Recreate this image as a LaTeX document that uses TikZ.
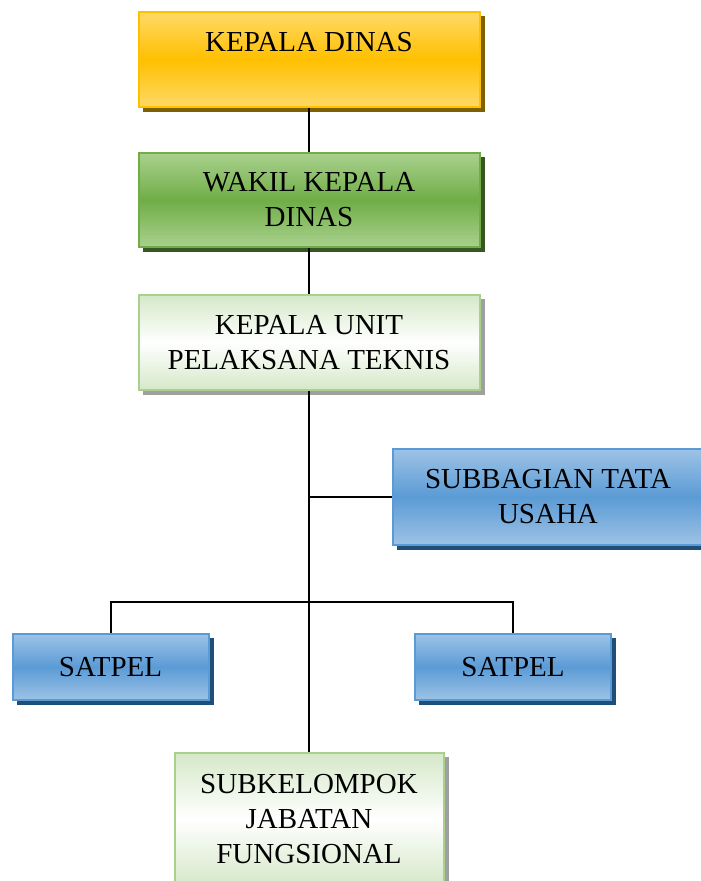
\documentclass[tikz,border=0pt]{standalone}
\usepackage{fontspec}
\setmainfont{Liberation Serif}
\usepackage{tikz}
\usetikzlibrary{calc,backgrounds,positioning}

\definecolor{orgtop}{HTML}{FFD966}
\definecolor{orgmid}{HTML}{FFC000}
\definecolor{orgshd}{HTML}{7F6000}
\definecolor{grntop}{HTML}{A9D18E}
\definecolor{grnmid}{HTML}{70AD47}
\definecolor{grnshd}{HTML}{375623}
\definecolor{ltgtop}{HTML}{D5E8C8}
\definecolor{ltgbrd}{HTML}{A9D18E}
\definecolor{ltgshd}{HTML}{A0A0A0}
\definecolor{blutop}{HTML}{9DC3E6}
\definecolor{blumid}{HTML}{5B9BD5}
\definecolor{blushd}{HTML}{1F4E79}

\begin{document}
\begin{tikzpicture}[x=1pt,y=-1pt,
font=\fontsize{29}{35}\selectfont,
box/.style={rectangle, align=center, line width=2pt, inner sep=0pt},
orgbox/.style={box, draw=orgmid, top color=orgtop, bottom color=orgtop, middle color=orgmid},
grnbox/.style={box, draw=grnmid, top color=grntop, bottom color=grntop, middle color=grnmid},
ltgbox/.style={box, draw=ltgbrd, top color=ltgtop, bottom color=ltgtop, middle color=white},
blubox/.style={box, draw=blumid, top color=blutop, bottom color=blutop, middle color=blumid},
link/.style={line width=2pt, black}]

    \useasboundingbox (0,0) rectangle (701,881);

    \node[orgbox, minimum width=341pt, minimum height=95pt] (kd) at (309,59.5) {KEPALA DINAS\\~};
    \node[grnbox, minimum width=341pt, minimum height=94pt] (wk) at (309,200) {WAKIL KEPALA\\DINAS};
    \node[ltgbox, minimum width=341pt, minimum height=95pt] (kupt) at (309,342.5) {KEPALA UNIT\\PELAKSANA TEKNIS};
    \node[blubox, minimum width=310pt, minimum height=96pt] (tu) at (548,497) {SUBBAGIAN TATA\\USAHA};
    \node[blubox, minimum width=196pt, minimum height=66pt] (satl) at (110.5,667) {SATPEL};
    \node[blubox, minimum width=196pt, minimum height=66pt] (satr) at (513,667) {SATPEL};
    \node[ltgbox, minimum width=269pt, minimum height=132pt] (jf) at (309,819) {SUBKELOMPOK\\JABATAN\\FUNGSIONAL};

    % shadows behind the boxes
    \begin{scope}[on background layer]
    \foreach \n/\c in {kd/orgshd, wk/grnshd, kupt/ltgshd, tu/blushd, satl/blushd, satr/blushd, jf/ltgshd}
        \fill[\c] ($(\n.north west)+(5,5)$) rectangle ($(\n.south east)+(4,4)$);
    \end{scope}

    \coordinate (fork) at (kupt.south |- 0,602);

    \draw[link] (kd) -- (wk);
    \draw[link] (wk) -- (kupt);
    \draw[link] (kupt.south) -- (kupt.south |- jf.north);
    \draw[link] (tu.west) -- (tu.west -| kupt.south);
    \draw[link] (satl.north) |- (fork) -| (satr.north);
\end{tikzpicture}
\end{document}
